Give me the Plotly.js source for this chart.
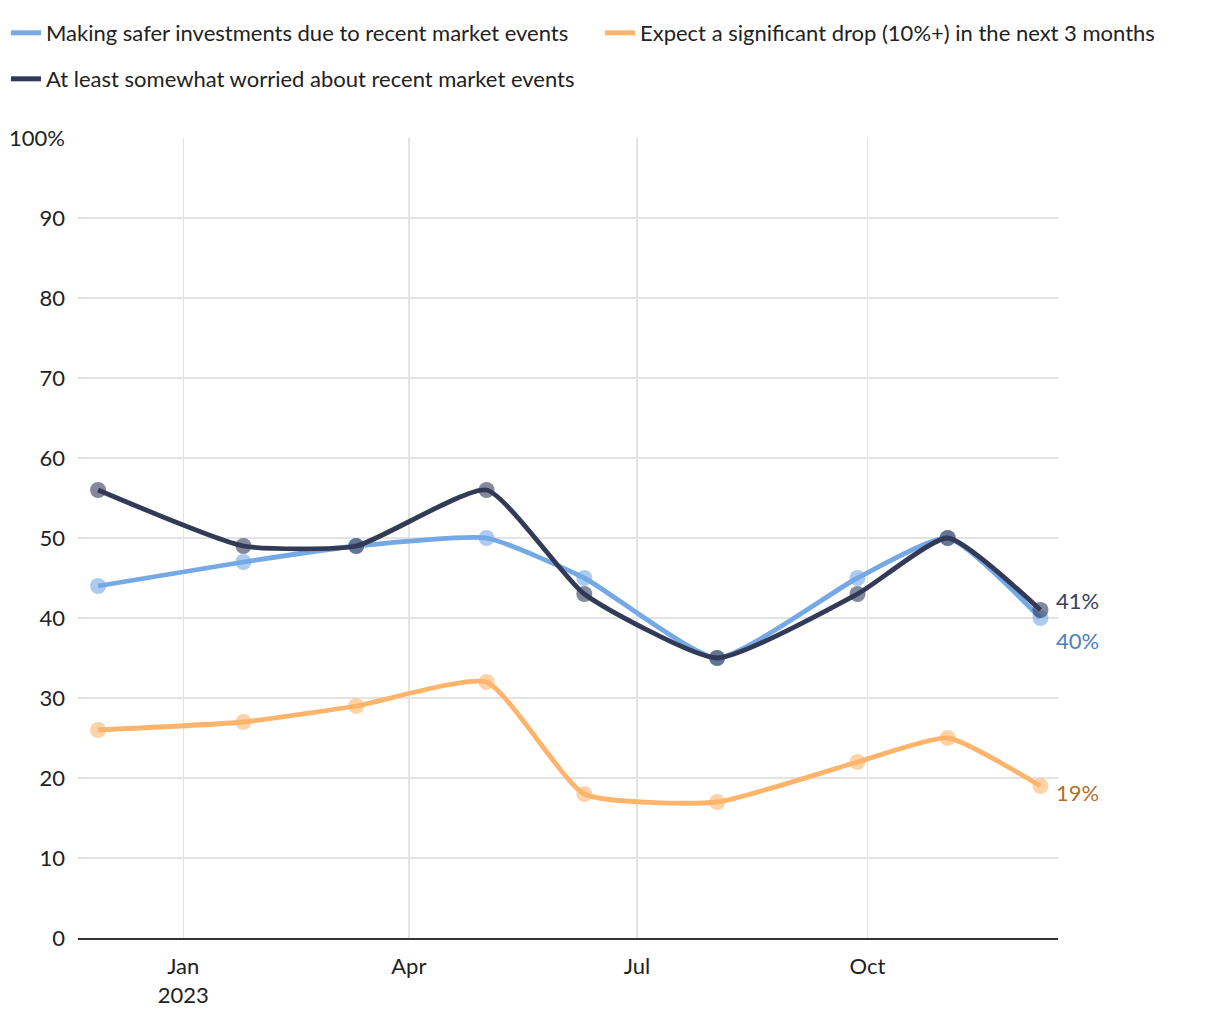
<!DOCTYPE html>
<html>
<head>
<meta charset="utf-8">
<script src="https://cdn.plot.ly/plotly-3.0.1.min.js"></script>
<style>html,body{margin:0;padding:0;background:#fff;}#chart{width:1220px;height:1020px;}</style>
</head>
<body>
<div id="chart"></div>
<script>
const dates = ["2022-11-28","2023-01-25","2023-03-11","2023-05-02","2023-06-10","2023-08-02","2023-09-27","2023-11-02","2023-12-09"];
const saferInvest = [44, 47, 49, 50, 45, 35, 45, 50, 40];
const expectDrop = [26, 27, 29, 32, 18, 17, 22, 25, 19];
const worried = [56, 49, 49, 56, 43, 35, 43, 50, 41];
const seriesNames = [
  "Making safer investments due to recent market events",
  "Expect a significant drop (10%+) in the next 3 months",
  "At least somewhat worried about recent market events"
];
const yTickVals = [0,10,20,30,40,50,60,70,80,90,100];
const yTickText = ["0","10","20","30","40","50","60","70","80","90","100%"];
const xTickVals = ["2023-01-01","2023-04-01","2023-07-01","2023-10-01"];
const xTickText = ["Jan<br>2023","Apr","Jul","Oct"];

const FONT = "Lato, 'Source Sans Pro', sans-serif";
const FS = 22;
const cBlue = "#74a9e6", cOrange = "#ffb46c", cDark = "#323a58";

function tr(y, color, mcolor) {
  return {
    x: dates, y: y, type: "scatter", mode: "lines+markers", showlegend: false,
    line: {color: color, width: 4.8, shape: "spline", smoothing: 0.5},
    marker: {color: mcolor, size: 16},
    hoverinfo: "skip"
  };
}
function legendEntry(name, color, legend) {
  return {x: [null], y: [null], type: "scatter", mode: "lines", name: name,
          line: {color: color, width: 5}, legend: legend, showlegend: true, hoverinfo: "skip"};
}
const traces = [
  tr(expectDrop, cOrange, "rgba(255,180,108,0.6)"),
  tr(saferInvest, cBlue, "rgba(116,169,230,0.6)"),
  tr(worried, cDark, "rgba(50,58,88,0.6)"),
  legendEntry(seriesNames[0], cBlue, "legend"),
  legendEntry(seriesNames[1], cOrange, "legend3"),
  legendEntry(seriesNames[2], cDark, "legend2")
];

const lf = {family: FONT, size: FS, color: "#222"};
const last = dates.length - 1;
const layout = {
  width: 1220, height: 1020,
  margin: {l: 78, r: 162, t: 138, b: 82},
  paper_bgcolor: "#fff", plot_bgcolor: "#fff",
  font: {family: FONT, size: FS, color: "#222"},
  showlegend: true,
  legend: {orientation: "h", xref: "container", yref: "container", x: 6/1220, y: 1 - 12/1020, xanchor: "left", yanchor: "top", font: lf},
  legend3: {orientation: "h", xref: "container", yref: "container", x: 600/1220, y: 1 - 12/1020, xanchor: "left", yanchor: "top", font: lf},
  legend2: {orientation: "h", xref: "container", yref: "container", x: 6/1220, y: 1 - 58/1020, xanchor: "left", yanchor: "top", font: lf},
  xaxis: {
    type: "date", range: ["2022-11-20", "2023-12-16"],
    tickvals: xTickVals, ticktext: xTickText,
    showgrid: true, gridcolor: "#e3e3e3", gridwidth: 1.5,
    showline: true, linecolor: "#333", linewidth: 2,
    ticks: "", zeroline: false, ticklabelstandoff: 8,
    tickfont: lf
  },
  yaxis: {
    range: [0, 100], tickvals: yTickVals, ticktext: yTickText,
    showgrid: true, gridcolor: "#e3e3e3", gridwidth: 1.5,
    zeroline: false, showline: false, ticks: "", ticklabelstandoff: 12,
    tickfont: lf
  },
  annotations: [
    {x: dates[last], y: worried[last], text: worried[last] + "%", showarrow: false, xanchor: "left", xshift: 14, yshift: 10,
     font: {family: FONT, size: FS, color: "#3a4060"}},
    {x: dates[last], y: saferInvest[last], text: saferInvest[last] + "%", showarrow: false, xanchor: "left", xshift: 14, yshift: -22,
     font: {family: FONT, size: FS, color: "#4a80c0"}},
    {x: dates[last], y: expectDrop[last], text: expectDrop[last] + "%", showarrow: false, xanchor: "left", xshift: 14, yshift: -6,
     font: {family: FONT, size: FS, color: "#b0702c"}}
  ]
};
Plotly.newPlot("chart", traces, layout, {staticPlot: true, displayModeBar: false});
</script>
</body>
</html>
